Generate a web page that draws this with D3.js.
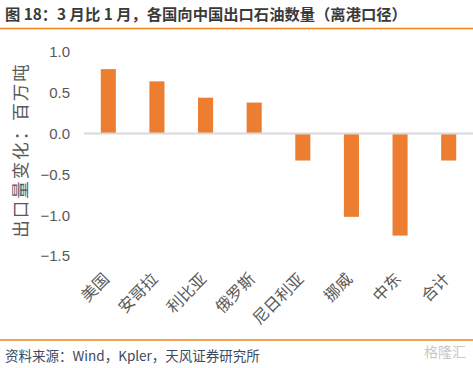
<!DOCTYPE html>
<html>
<head>
  <meta charset="utf-8">
  <script src="https://d3js.org/d3.v7.min.js"></script>
  <style>
    html, body { margin: 0; padding: 0; background: #fff; }
    svg { display: block; }
    .cjk { font-family: "Noto Sans CJK SC", "Liberation Sans", sans-serif; }
  </style>
</head>
<body>
  <svg width="473" height="368"></svg>
  <script>
    // data
    const countries = ["美国", "安哥拉", "利比亚", "俄罗斯", "尼日利亚", "挪威", "中东", "合计"];
    const changes = [0.79, 0.64, 0.44, 0.38, -0.33, -1.02, -1.25, -0.33];
    const yTicks = [1.0, 0.5, 0.0, -0.5, -1.0, -1.5];

    const W = 473, H = 368;
    const svg = d3.select("svg");
    const orange = "#ED7D31";

    const x = d3.scaleBand()
      .domain(countries)
      .range([84, 473])
      .paddingInner(0.69)
      .paddingOuter(0.345);

    const y = d3.scaleLinear()
      .domain([-1.5, 1.0])
      .range([256, 52]);

    // title + rules
    svg.append("text")
      .attr("class", "cjk")
      .attr("x", 5).attr("y", 20)
      .attr("font-size", 15.3).attr("font-weight", "bold")
      .attr("fill", "#3a3a3a")
      .text("图 18：3 月比 1 月，各国向中国出口石油数量（离港口径）");

    svg.append("line")
      .attr("x1", 0).attr("x2", W).attr("y1", 28.5).attr("y2", 28.5)
      .attr("stroke", "#F08519").attr("stroke-width", 1.5);

    svg.append("line")
      .attr("x1", 0).attr("x2", W).attr("y1", 340).attr("y2", 340)
      .attr("stroke", "#F08519").attr("stroke-width", 1.5);

    svg.append("text")
      .attr("class", "cjk")
      .attr("x", 5).attr("y", 361)
      .attr("font-size", 13.5)
      .attr("fill", "#3b4a63")
      .text("资料来源：Wind，Kpler，天风证券研究所");

    svg.append("text")
      .attr("class", "cjk")
      .attr("x", 466).attr("y", 357)
      .attr("text-anchor", "end")
      .attr("font-size", 14)
      .attr("fill", "#c8c8c8")
      .text("格隆汇");

    // y axis labels
    const yAxis = d3.axisLeft(y)
      .tickValues(yTicks)
      .tickFormat(d3.format(".1f"))
      .tickSize(0)
      .tickPadding(0);

    const ya = svg.append("g")
      .attr("transform", "translate(70,0)")
      .call(yAxis);
    ya.select(".domain").remove();
    ya.selectAll("text")
      .attr("font-family", "Liberation Sans, Arial, sans-serif")
      .attr("font-size", 15)
      .attr("fill", "#595959");

    // y axis title
    svg.append("text")
      .attr("class", "cjk")
      .attr("transform", "translate(27,150) rotate(-90)")
      .attr("text-anchor", "middle")
      .attr("font-size", 17.5)
      .attr("letter-spacing", 2)
      .attr("fill", "#595959")
      .text("出口量变化：百万吨");

    // bars
    svg.append("g")
      .selectAll("rect")
      .data(changes)
      .join("rect")
      .attr("x", (d, i) => x(countries[i]))
      .attr("width", x.bandwidth())
      .attr("y", d => y(Math.max(0, d)))
      .attr("height", d => Math.abs(y(d) - y(0)))
      .attr("fill", orange);

    // zero line
    svg.append("line")
      .attr("x1", 84).attr("x2", W)
      .attr("y1", y(0)).attr("y2", y(0))
      .attr("stroke", "#d9d9d9").attr("stroke-width", 2);

    // category labels, rotated
    svg.append("g")
      .selectAll("text")
      .data(countries)
      .join("text")
      .attr("class", "cjk")
      .attr("transform", d => `translate(${x(d) + x.bandwidth() / 2 + 2},280) rotate(-45)`)
      .attr("text-anchor", "end")
      .attr("font-size", 16)
      .attr("fill", "#595959")
      .text(d => d);
  </script>
</body>
</html>
